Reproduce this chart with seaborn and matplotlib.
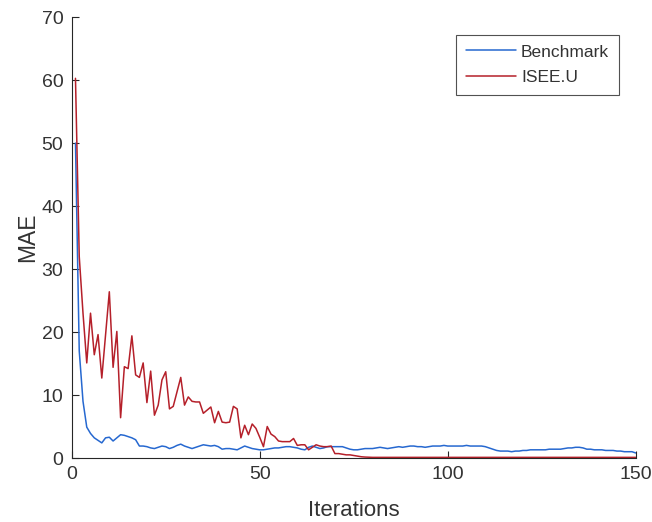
import matplotlib
matplotlib.use("Agg")
import matplotlib.pyplot as plt
import seaborn as sns
import pandas as pd

iterations = list(range(1, 151))

benchmark = [
    50.0, 17.0, 9.0, 4.9, 3.9, 3.2, 2.8, 2.4, 3.2, 3.3,
    2.7, 3.2, 3.7, 3.6, 3.4, 3.2, 2.9, 1.9, 1.9, 1.8,
    1.6, 1.5, 1.7, 1.9, 1.8, 1.5, 1.7, 2.0, 2.2, 1.9,
    1.7, 1.5, 1.7, 1.9, 2.1, 2.0, 1.9, 2.0, 1.8, 1.4,
    1.5, 1.5, 1.4, 1.3, 1.6, 1.9, 1.7, 1.5, 1.4, 1.3,
    1.3, 1.4, 1.5, 1.6, 1.6, 1.7, 1.8, 1.8, 1.7, 1.6,
    1.4, 1.3, 1.7, 1.9, 1.7, 1.5, 1.6, 1.8, 1.8, 1.8,
    1.8, 1.8, 1.6, 1.4, 1.3, 1.3, 1.4, 1.5, 1.5, 1.5,
    1.6, 1.7, 1.6, 1.5, 1.6, 1.7, 1.8, 1.7, 1.8, 1.9,
    1.9, 1.8, 1.8, 1.7, 1.8, 1.9, 1.9, 1.9, 2.0, 1.9,
    1.9, 1.9, 1.9, 1.9, 2.0, 1.9, 1.9, 1.9, 1.9, 1.8,
    1.6, 1.4, 1.2, 1.1, 1.1, 1.1, 1.0, 1.1, 1.1, 1.2,
    1.2, 1.3, 1.3, 1.3, 1.3, 1.3, 1.4, 1.4, 1.4, 1.4,
    1.5, 1.6, 1.6, 1.7, 1.7, 1.6, 1.4, 1.4, 1.3, 1.3,
    1.3, 1.2, 1.2, 1.2, 1.1, 1.1, 1.0, 1.0, 1.0, 0.8,
]

isee_u = [
    60.3, 32.0, 23.0, 15.1, 23.0, 16.4, 19.6, 12.7, 19.5, 26.4,
    14.4, 20.1, 6.4, 14.5, 14.2, 19.4, 13.2, 12.8, 15.1, 8.8,
    13.8, 6.8, 8.4, 12.4, 13.7, 7.8, 8.2, 10.5, 12.8, 8.4,
    9.7, 9.0, 8.9, 8.9, 7.1, 7.6, 8.1, 5.6, 7.4, 5.7,
    5.6, 5.7, 8.2, 7.8, 3.2, 5.2, 3.7, 5.4, 4.7, 3.3,
    1.8, 5.0, 3.8, 3.4, 2.7, 2.6, 2.6, 2.6, 3.1, 2.0,
    2.1, 2.1, 1.3, 1.7, 2.1, 1.9, 1.8, 1.8, 1.9, 0.7,
    0.7, 0.6, 0.5, 0.5, 0.4, 0.3, 0.2, 0.15, 0.12, 0.1,
    0.1, 0.1, 0.1, 0.1, 0.1, 0.1, 0.1, 0.1, 0.1, 0.1,
    0.1, 0.1, 0.1, 0.1, 0.1, 0.1, 0.1, 0.1, 0.1, 0.1,
    0.1, 0.1, 0.1, 0.1, 0.1, 0.1, 0.1, 0.1, 0.1, 0.1,
    0.1, 0.1, 0.1, 0.1, 0.1, 0.1, 0.1, 0.1, 0.1, 0.1,
    0.1, 0.1, 0.1, 0.1, 0.1, 0.1, 0.1, 0.1, 0.1, 0.1,
    0.1, 0.1, 0.1, 0.1, 0.1, 0.1, 0.1, 0.1, 0.1, 0.1,
    0.1, 0.1, 0.1, 0.1, 0.1, 0.1, 0.1, 0.1, 0.1, 0.1,
]

series_names = ["Benchmark", "ISEE.U"]
series_colors = ["#2668d0", "#b5202a"]
x_ticks = [0, 50, 100, 150]
y_ticks = [0, 10, 20, 30, 40, 50, 60, 70]

df = pd.DataFrame({
    "Iterations": iterations * 2,
    "MAE": benchmark + isee_u,
    "Method": [series_names[0]] * len(benchmark) + [series_names[1]] * len(isee_u),
})

sns.set_theme(style="white")
plt.rcParams["font.family"] = ["Liberation Sans", "DejaVu Sans"]

axis_grey = "#262626"
label_grey = "#333333"
fig = plt.figure(figsize=(6.52, 5.22), dpi=100)
ax = fig.add_axes([0.110, 0.1226, 0.865, 0.8444])

sns.lineplot(data=df, x="Iterations", y="MAE", hue="Method",
             palette=dict(zip(series_names, series_colors)),
             linewidth=1.1, ax=ax, legend=True)

ax.set_xlim(0, 150)
ax.set_ylim(0, 70)
ax.set_xticks(x_ticks)
ax.set_yticks(y_ticks)
ax.tick_params(direction="in", length=5, width=0.8, colors=axis_grey,
               labelsize=14, labelcolor=label_grey, left=True, bottom=True)
ax.tick_params(axis="x", pad=6)
ax.tick_params(axis="y", pad=6)

for side in ["top", "right"]:
    ax.spines[side].set_visible(False)
for side in ["left", "bottom"]:
    ax.spines[side].set_color(axis_grey)
    ax.spines[side].set_linewidth(0.8)

ax.set_xlabel("Iterations", fontsize=16, color=label_grey, labelpad=12)
ax.set_ylabel("MAE", fontsize=16.5, color=label_grey, labelpad=1.5)

leg = ax.legend(loc="upper right", bbox_to_anchor=(0.970, 0.960), fontsize=12.5,
                frameon=True, fancybox=False, edgecolor=axis_grey,
                handlelength=2.9, handletextpad=0.3, borderpad=0.55,
                labelspacing=0.6, borderaxespad=0)
leg.get_frame().set_linewidth(0.8)
for t in leg.get_texts():
    t.set_color(label_grey)

fig.savefig("out.png", dpi=100)
